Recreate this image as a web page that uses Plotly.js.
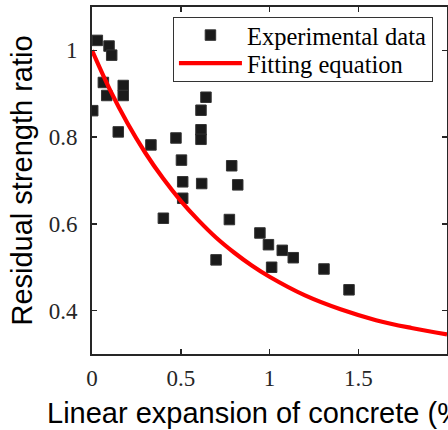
<!DOCTYPE html>
<html>
<head>
<meta charset="utf-8">
<script src="https://cdn.plot.ly/plotly-3.0.1.min.js"></script>
<style>
html,body{margin:0;padding:0;background:#fff;}
#chart{width:448px;height:430px;}
</style>
</head>
<body>
<div id="chart"></div>
<script>
var expX = [0.030, 0.096, 0.111, 0.064, 0.083, 0.176, 0.176, 0.004, 0.148, 0.332,
            0.473, 0.642, 0.614, 0.614, 0.614, 0.504, 0.787, 0.511, 0.618, 0.821,
            0.511, 0.402, 0.774, 0.946, 0.994, 0.699, 1.012, 1.072, 1.134, 1.307, 1.448];
var expY = [1.023, 1.010, 0.989, 0.926, 0.896, 0.919, 0.896, 0.861, 0.812, 0.782,
            0.798, 0.892, 0.862, 0.817, 0.795, 0.747, 0.734, 0.697, 0.693, 0.690,
            0.659, 0.613, 0.610, 0.579, 0.552, 0.517, 0.500, 0.539, 0.522, 0.496, 0.448];

// Fitting curve
var fitX = [0, 0.1, 0.2, 0.3, 0.4, 0.5, 0.6, 0.7, 0.8, 0.9, 1.0, 1.2, 1.4, 1.6, 1.8, 2.0];
var fitY = [1.000, 0.910, 0.832, 0.764, 0.705, 0.653, 0.608, 0.568, 0.534, 0.504, 0.478,
            0.435, 0.403, 0.378, 0.360, 0.345];

var xTicks = [0, 0.5, 1, 1.5, 2];
var xTickText = ['0', '0.5', '1', '1.5', '2'];
var yTicks = [0.4, 0.6, 0.8, 1];
var yTickText = ['0.4', '0.6', '0.8', '1'];

var serif = 'Liberation Serif, Times New Roman, serif';
var sans = 'Liberation Sans, Arial, sans-serif';
var ink = '#262626';

var traces = [
  {
    x: expX, y: expY, type: 'scatter', mode: 'markers', name: 'Experimental data',
    marker: {symbol: 'square', size: 10.5, color: '#1a1a1a', line: {width: 1, color: '#333333'}}
  },
  {
    x: fitX, y: fitY, type: 'scatter', mode: 'lines', name: 'Fitting equation',
    line: {color: '#ff0000', width: 4.2, shape: 'spline'}
  }
];

var axisCommon = {
  showline: true, linewidth: 2, linecolor: ink, mirror: 'ticks',
  ticks: 'inside', ticklen: 5, tickwidth: 1.5, tickcolor: ink,
  showgrid: false, zeroline: false,
  tickfont: {family: serif, size: 23, color: ink}
};

var layout = {
  width: 448, height: 430,
  margin: {l: 92, r: 1, t: 7, b: 76},
  paper_bgcolor: '#ffffff', plot_bgcolor: '#ffffff',
  showlegend: true,
  xaxis: Object.assign({}, axisCommon, {
    range: [0, 2], tickvals: xTicks, ticktext: xTickText, ticklabelstandoff: 2
  }),
  yaxis: Object.assign({}, axisCommon, {
    range: [0.3, 1.1], tickvals: yTicks, ticktext: yTickText, ticklabelstandoff: 8,
    title: {text: 'Residual strength ratio', font: {family: sans, size: 29, color: '#000'}, standoff: 8}
  }),
  legend: {
    x: 0.228, y: 0.971, xanchor: 'left', yanchor: 'top',
    bgcolor: '#ffffff', bordercolor: '#333333', borderwidth: 1,
    font: {family: serif, size: 24.5, color: '#000'},
    itemwidth: 63, tracegroupgap: 0
  },
  annotations: [{
    text: 'Linear expansion of concrete (%)', xref: 'paper', yref: 'paper',
    x: 0.473, y: -0.170, xanchor: 'center', yanchor: 'middle', showarrow: false,
    font: {family: sans, size: 29, color: '#000'}
  }]
};

Plotly.newPlot('chart', traces, layout, {displayModeBar: false, staticPlot: true}).then(function () {
  // tighten the legend row spacing to match the reference
  var leg = document.querySelector('.legend');
  if (!leg) return;
  var items = leg.querySelectorAll('.traces');
  var rowGap = 28, firstY = 18, boxH = 64;
  for (var i = 0; i < items.length; i++) {
    var t = items[i].getAttribute('transform') || '';
    var m = t.match(/translate\(\s*([-\d.]+)[ ,]+([-\d.]+)\s*\)/);
    var tx = m ? parseFloat(m[1]) : 0;
    items[i].setAttribute('transform', 'translate(' + tx + ',' + (firstY + i * rowGap) + ')');
  }
  var bg = leg.querySelector('rect.bg');
  if (bg) bg.setAttribute('height', boxH);
  var clips = document.querySelectorAll('clipPath[id^="legend"] rect');
  for (var j = 0; j < clips.length; j++) clips[j].setAttribute('height', boxH);
  var sb = leg.querySelector('.scrollbox');
  if (sb) sb.setAttribute('transform', 'translate(0,0)');
});
</script>
</body>
</html>
